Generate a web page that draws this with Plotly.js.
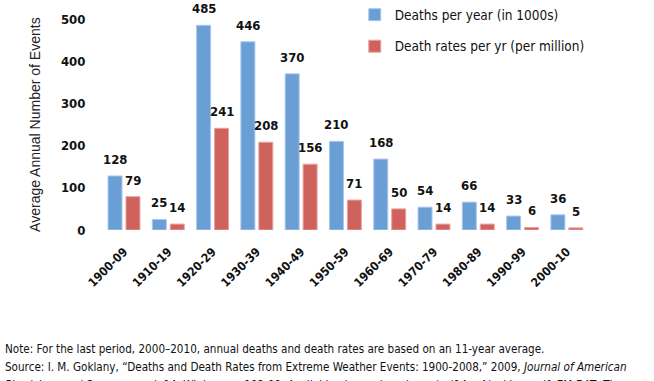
<!DOCTYPE html>
<html><head><meta charset="utf-8">
<script src="https://cdn.plot.ly/plotly-3.0.1.min.js"></script>
<style>body{margin:0;background:#fff}#chart{width:654px;height:381px}</style>
</head><body><div id="chart"></div>
<script>
const categories = ["1900-09","1910-19","1920-29","1930-39","1940-49","1950-59","1960-69","1970-79","1980-89","1990-99","2000-10"];
const deathsPerYear = [128,25,485,446,370,210,168,54,66,33,36];
const deathRates = [79,14,241,208,156,71,50,14,14,6,5];
const seriesNames = ["Deaths per year (in 1000s)","Death rates per yr (per million)"];
const yTicks = [0,100,200,300,400,500];

const NARROW = '"DejaVu Sans Condensed", "Liberation Sans Narrow", Arial, sans-serif';
const REG = '"Liberation Sans", Arial, sans-serif';

const traces = [
  {type:'bar', x:categories, y:deathsPerYear, name:seriesNames[0], legendgroup:'a',
   marker:{color:'#6a9fd6', line:{color:'#a9c7eb', width:1}}, hoverinfo:'none'},
  {type:'bar', x:categories, y:deathRates, name:seriesNames[1], legendgroup:'b',
   marker:{color:'#d0625e', line:{color:'#e8a3a0', width:1}}, hoverinfo:'none'}
];

const annotations = [];
[[deathsPerYear,-9],[deathRates,9]].forEach(([vals,dx])=>{
  vals.forEach((v,i)=>annotations.push({x:categories[i], y:v, xref:'x', yref:'y', text:'<b>'+v+'</b>',
    showarrow:false, xshift:dx, yshift:7, yanchor:'bottom',
    font:{family:NARROW, size:13, color:'#111'}}));
});
annotations.push({xref:'paper', yref:'paper', x:-0.157, y:0.5, text:'Average Annual Number of Events',
  textangle:-90, showarrow:false, font:{family:REG, size:14, color:'#222'}});
const notes = [
  'Note: For the last period, 2000–2010, annual deaths and death rates are based on an 11-year average.',
  'Source: I. M. Goklany, “Deaths and Death Rates from Extreme Weather Events: 1900-2008,” 2009, <i>Journal of American</i>',
  '<i>Physicians and Surgeons</i>, vol. 14, Winter, pp. 102-09. Available at www.jpands.org/vol14no4/goklany.pdf; EM-DAT; The'
];
const noteY = [349, 367, 385];
notes.forEach((t,i)=>annotations.push({xref:'paper', yref:'paper', x:-0.2, xanchor:'left',
  y:(230 - noteY[i]) / 211, yanchor:'middle', text:t, showarrow:false,
  font:{family:NARROW, size:11.6, color:'#111'}}));

const layout = {
  width:654, height:381,
  margin:{l:101, r:65, t:19, b:151, autoexpand:false},
  paper_bgcolor:'#fff', plot_bgcolor:'#fff',
  barmode:'group', bargap:0.19, bargroupgap:0.22,
  showlegend:true,
  legend:{x:0.52, y:1.093, xanchor:'left', yanchor:'top', tracegroupgap:11,
    font:{family:NARROW, size:13.5, color:'#111'}, bgcolor:'rgba(0,0,0,0)'},
  xaxis:{type:'category', tickangle:-45, showgrid:false, zeroline:false, showline:false,
    ticks:'outside', ticklen:9, tickcolor:'rgba(0,0,0,0)',
    tickfont:{family:NARROW, size:12, color:'#111', weight:'bold'}, fixedrange:true},
  yaxis:{range:[0,500], tickvals:yTicks, showgrid:false, zeroline:false, showline:false,
    ticks:'outside', ticklen:12, tickcolor:'rgba(0,0,0,0)',
    tickfont:{family:NARROW, size:13, color:'#111', weight:'bold'}, fixedrange:true},
  annotations:annotations
};
Plotly.newPlot('chart', traces, layout, {displayModeBar:false, staticPlot:true});
</script></body></html>
